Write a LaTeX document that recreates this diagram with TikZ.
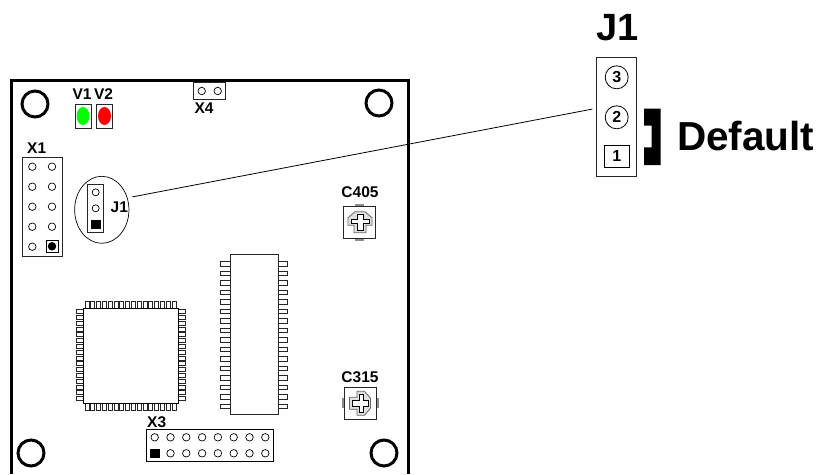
\documentclass[tikz,border=0pt]{standalone}
\usepackage{fontspec}
\setmainfont{Liberation Sans}
\usepackage{tikz}
\usetikzlibrary{calc, positioning, shapes.geometric}
\definecolor{ledgreen}{RGB}{0,255,0}
\definecolor{ledred}{RGB}{255,0,0}
\tikzset{
    part/.style={rectangle, draw=black!85, line width=0.8pt, fill=white, inner sep=0pt},
    pad/.style={circle, draw=black, line width=0.7pt, fill=white, inner sep=0pt, minimum size=7.5pt},
    padsquare/.style={rectangle, draw=black, fill=black, inner sep=0pt, minimum size=8.5pt},
    mount/.style={circle, draw=black, line width=3pt, fill=white, inner sep=0pt, minimum size=26pt},
    led/.style={ellipse, inner sep=0pt, minimum width=13pt, minimum height=18pt},
    tag/.style={font=\fontsize{15.5}{15.5}\selectfont\bfseries, inner sep=0pt},
    bigtag/.style={font=\fontsize{40}{40}\selectfont\bfseries, inner sep=0pt},
    jpad/.style={circle, draw=black, line width=0.8pt, fill=white, inner sep=0pt, minimum size=23pt, font=\fontsize{16}{16}\selectfont\bfseries},
    legthin/.style={draw=black!85, line width=0.7pt, fill=white},
    trimmer/.pic={
        \draw[black!60, line width=0.8pt, fill=black!12] (-5,-10) -- (5,-10) -- (12,-4) -- (12,3.5) -- (6,3.5) -- (6,11) -- (-6,11) -- (-6,3.5) -- (-12,3.5) -- (-12,-4) -- cycle;
        \draw[black, line width=0.7pt, fill=white] (-3,-7.5) -- (3,-7.5) -- (3,-2.5) -- (9,-2.5) -- (9,1.5) -- (3,1.5) -- (3,8.5) -- (-3,8.5) -- (-3,1.5) -- (-9,1.5) -- (-9,-2.5) -- (-3,-2.5) -- cycle;
    }
}

\begin{document}
\begin{tikzpicture}[x=1pt, y=-1pt]
    \useasboundingbox (0,0) rectangle (821,474);

    % Board outline
    \draw[line width=3pt, black] (11.5,474) -- (11.5,80) -- (408,80) -- (408,474);
    \foreach \name/\x/\y in {tl/35/104, tr/379/103, bl/31/453, br/384/453}
        \node[mount] (hole\name) at (\x,\y) {};

    % LEDs
    \node[part, minimum width=16pt, minimum height=24pt] (v1box) at (83,116) {};
    \node[part, minimum width=16pt, minimum height=24pt] (v2box) at (104.5,116) {};
    \node[led, fill=ledgreen] (v1led) at (83,116) {};
    \node[led, fill=ledred] (v2led) at (104.5,116) {};
    \node[tag] (v1tag) at (82,94.5) {V1};
    \node[tag] (v2tag) at (103.5,94.5) {V2};

    % X4
    \node[part, minimum width=32pt, minimum height=16.5pt] (x4box) at (209.7,91) {};
    \node[pad] (x4a) at (201.7,91) {};
    \node[pad] (x4b) at (217.7,91) {};
    \node[tag] (x4tag) at (204,107.7) {X4};

    % X1
    \node[part, minimum width=39.7pt, minimum height=99.3pt] (x1box) at (42.2,206.7) {};
    \foreach \y [count=\i] in {166.7,186.7,206.7,226.7,246.7} {
        \node[pad] (x1a\i) at (32.3,\y) {};
        \ifnum\i<5
            \node[pad] (x1b\i) at (52,\y) {};
        \fi
    }
    \node[rectangle, draw=black, line width=0.7pt, inner sep=0pt, minimum size=12pt] (x1sq) at (52,246.3) {};
    \node[circle, fill=black, inner sep=0pt, minimum size=8.5pt] (x1b5) at (52,246.3) {};
    \node[tag] (x1tag) at (36.7,147.7) {X1};

    % J1 on the board
    \node[ellipse, draw=black, line width=0.7pt, inner sep=0pt, minimum width=54.3pt, minimum height=67pt] (j1oval) at (101.8,209.8) {};
    \node[part, minimum width=16pt, minimum height=47.7pt] (j1box) at (95.7,208.2) {};
    \node[pad, minimum size=7pt] (j1c) at (95.7,192.3) {};
    \node[pad, minimum size=7pt] (j1b) at (95.7,208.3) {};
    \node[padsquare] (j1a) at (95.7,224) {};
    \node[tag] (j1tag) at (119.3,207.3) {J1};

    % J1 detail
    \node[part, minimum width=40pt, minimum height=119.4pt] (j1big) at (616.7,117) {};
    \node[jpad] (pad3) at (616.7,77.3) {3};
    \node[jpad] (pad2) at (616.7,117.3) {2};
    \node[rectangle, draw=black, line width=0.8pt, inner sep=0pt, minimum width=24.7pt, minimum height=22.7pt, font=\fontsize{16}{16}\selectfont\bfseries] (pad1) at (616.7,156.3) {1};
    \node[bigtag, font=\fontsize{38}{38}\selectfont\bfseries] (j1head) at (617.6,28) {J1};
    \node[bigtag, font=\fontsize{40.5}{40.5}\selectfont\bfseries, anchor=west] (default) at (677,135.8) {Default};
    \fill[black] (644,108.7) -- (660.7,108.7) -- (660.7,165) -- (644,165) -- (644,147.3) -- (651.7,147.3) -- (651.7,125.7) -- (644,125.7) -- cycle;
    \draw[line width=0.8pt, shorten <=5pt, shorten >=4pt] (j1oval.25) -- (j1big.157);

    % Trimmers
    \fill[black!45] (355,204.3) rectangle (364.3,240.7);
    \node[part, minimum width=32.4pt, minimum height=32.3pt] (c405box) at (359.5,222.2) {};
    \pic at (360,221.7) {trimmer};
    \node[tag] (c405tag) at (360,192.3) {C405};
    \fill[black!45] (342.3,398.3) rectangle (378.7,408.3);
    \node[part, minimum width=32.4pt, minimum height=32pt] (c315box) at (360.5,403.3) {};
    \pic[rotate=-90] at (360.5,403.3) {trimmer};
    \node[tag] (c315tag) at (360,377.3) {C315};

    % QFP
    \foreach \i in {0,...,15} {
        \draw[legthin] ({85+5.8*\i},301.7) rectangle ++(4,7);
        \draw[legthin] ({85+5.8*\i},403) rectangle ++(4,7);
        \draw[legthin] (76,{309.5+5.8*\i}) rectangle ++(8,4);
        \draw[legthin] (178,{309.5+5.8*\i}) rectangle ++(7,4);
    }
    \node[part, draw=black, line width=1pt, minimum width=95pt, minimum height=95pt] (qfp) at (130.8,355.8) {};

    % SOP
    \foreach \i in {0,...,15} {
        \draw[legthin] (220.3,{261.4+9.5*\i}) rectangle ++(10,4.6);
        \draw[legthin] (278,{261.4+9.5*\i}) rectangle ++(9.7,4.6);
    }
    \node[part, minimum width=48.3pt, minimum height=159.3pt] (sop) at (254.2,334.3) {};

    % X3
    \node[part, draw=black, minimum width=127pt, minimum height=32pt] (x3box) at (209.8,445.3) {};
    \foreach \i in {0,...,7} {
        \node[pad] (x3a\i) at ({154.7+15.8*\i},437.3) {};
        \ifnum\i>0
            \node[pad] (x3b\i) at ({154.7+15.8*\i},453.3) {};
        \fi
    }
    \node[padsquare] (x3b0) at (154.7,453.3) {};
    \node[tag] (x3tag) at (156.7,421.7) {X3};
\end{tikzpicture}
\end{document}
